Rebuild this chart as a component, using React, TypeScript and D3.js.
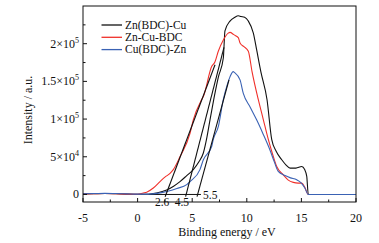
import React from "react";
import * as d3 from "d3";

const W = 379;
const H = 243;

// Binding energy (eV) and intensity (a.u.)
const blackE = [-5, -4, -3, -2, -1, 0, 1, 1.75, 2.66, 3.3, 3.88, 4.5, 5.1, 5.6, 6.02, 6.35, 6.63, 7.0, 7.4, 7.85, 8.0, 8.46, 8.9, 9.22, 9.47, 9.8, 10.14, 10.6, 10.9, 11.3, 11.85, 12.28, 12.7, 13.2, 13.6, 13.96, 14.5, 15.03, 15.3, 15.49, 15.63, 16, 18, 20];
const blackI = [800, 1000, 1300, 1000, 500, 200, 300, 2000, 6000, 11000, 17000, 25000, 33000, 43000, 55000, 76000, 99000, 128000, 156000, 181000, 217000, 230000, 235000, 237000, 236000, 235000, 230000, 214000, 192000, 162000, 126000, 73000, 57000, 46000, 39000, 35000, 35000, 37000, 33000, 24000, 0, 0, 0, 0];

const redE = [-5, -4, -3, -2, -1, 0, 0.52, 0.83, 1.44, 2.05, 2.5, 2.97, 3.27, 3.88, 4.8, 5.1, 5.87, 6.02, 6.79, 7.09, 7.39, 7.85, 8.3, 8.46, 8.8, 9.22, 9.38, 9.74, 10.14, 10.48, 11.05, 11.5, 11.97, 12.35, 12.74, 13.34, 13.8, 14.26, 14.7, 15.03, 15.3, 15.63, 16, 18, 20];
const redI = [800, 1000, 1200, 900, 500, 300, 2000, 3000, 8500, 17000, 23000, 28000, 33000, 50000, 81000, 99000, 126000, 130000, 170000, 176000, 190000, 205000, 214000, 215000, 212000, 208000, 201000, 196000, 190000, 163000, 126000, 100000, 73000, 54000, 37000, 26000, 19000, 16000, 15000, 15000, 10000, 0, 0, 0, 0];

const blueE = [-5, -4, -3, -2, -1, 0, 1, 1.8, 2.66, 3.6, 4.5, 4.8, 5.71, 6.02, 6.79, 6.93, 7.39, 7.85, 8.2, 8.46, 8.76, 8.86, 9.38, 9.68, 10.3, 10.9, 11.5, 12.12, 12.5, 12.88, 13.5, 14.0, 14.57, 14.97, 15.3, 15.63, 16, 18, 20];
const blueI = [1000, 1200, 1500, 1200, 800, 400, 500, 1500, 4000, 8000, 13000, 17000, 33000, 46000, 64000, 73000, 90000, 126000, 145000, 156000, 163000, 162000, 152000, 134000, 116000, 99000, 80000, 59000, 44000, 30500, 25000, 22000, 19500, 15500, 9000, 0, 0, 0, 0];

const seriesNames = ["Zn(BDC)-Cu", "Zn-Cu-BDC", "Cu(BDC)-Zn"];
const seriesColors = ["#111111", "#f0302a", "#3a62b4"];

// Tangent (onset) lines: start energy, end energy, end intensity
const onsetLabels = ["2.6", "4.5", "5.5"];
const onsetE0 = [2.6, 4.45, 5.5];
const onsetE1 = [7.09, 7.91, 8.37];
const onsetI1 = [172000, 195000, 152000];

const xTicks = [-5, 0, 5, 10, 15, 20];
const xMinor = [-2.5, 2.5, 7.5, 12.5, 17.5];
const yTicks = [0, 50000, 100000, 150000, 200000];
const yTickMant = ["0", "5", "1", "1.5", "2"];
const yTickExp = ["", "4", "5", "5", "5"];
const yMinor = [25000, 75000, 125000, 175000, 225000];

const font = "Liberation Serif";

export default function App() {
  const left = 83, right = 356, top = 6, bottom = 202;
  const x = d3.scaleLinear().domain([-5, 20]).range([left, right]);
  const y = d3.scaleLinear().domain([-10000, 250000]).range([bottom, top]);

  const line = d3
    .line<[number, number]>()
    .x((d) => x(d[0]))
    .y((d) => y(d[1]))
    .curve(d3.curveMonotoneX);

  const series = [
    { e: blackE, i: blackI },
    { e: redE, i: redI },
    { e: blueE, i: blueI },
  ];

  const ts = { fontFamily: font, fill: "#111" } as React.CSSProperties;

  return (
    <svg
      width={W}
      height={H}
      style={{ position: "absolute", left: 0, top: 0, background: "#fff", fontFamily: font }}
    >
      <rect x={0} y={0} width={W} height={H} fill="#fff" />
      <line x1={x(1)} x2={x(5.8)} y1={y(0)} y2={y(0)} stroke="#111" strokeWidth={1} />
      {series.map((s, k) => (
        <path
          key={k}
          d={line(s.e.map((e, j) => [e, s.i[j]] as [number, number])) || ""}
          fill="none"
          stroke={seriesColors[k]}
          strokeWidth={1.1}
        />
      ))}
      {onsetE0.map((e0, k) => {
        const e1 = onsetE1[k];
        const i1 = onsetI1[k];
        const slope = i1 / (e1 - e0);
        const iStart = -3000;
        const eStart = e0 + iStart / slope;
        return (
          <line key={k} x1={x(eStart)} y1={y(iStart)} x2={x(e1)} y2={y(i1)} stroke="#111" strokeWidth={1.1} />
        );
      })}
      <text x={x(2.25)} y={206} fontSize={11.5} textAnchor="middle" style={ts}>{onsetLabels[0]}</text>
      <text x={x(4.05)} y={206} fontSize={11.5} textAnchor="middle" style={ts}>{onsetLabels[1]}</text>
      <text x={x(6.0)} y={199} fontSize={11.5} textAnchor="start" style={ts}>{onsetLabels[2]}</text>

      <rect x={left} y={top} width={right - left} height={bottom - top} fill="none" stroke="#111" strokeWidth={1} />

      {xTicks.map((t) => (
        <g key={"xt" + t}>
          <line x1={x(t)} x2={x(t)} y1={bottom} y2={bottom - 4} stroke="#111" />
          <text x={x(t)} y={222} fontSize={12} textAnchor="middle" style={ts}>{t}</text>
        </g>
      ))}
      {xMinor.map((t) => (
        <line key={"xm" + t} x1={x(t)} x2={x(t)} y1={bottom} y2={bottom - 2.5} stroke="#111" />
      ))}
      {yTicks.map((t, k) => (
        <g key={"yt" + t}>
          <line x1={left} x2={left + 4} y1={y(t)} y2={y(t)} stroke="#111" />
          <text x={79} y={y(t) + 4} fontSize={12} textAnchor="end" style={ts}>
            {k === 0 ? (
              "0"
            ) : (
              <>
                {yTickMant[k]}×10
                <tspan dy={-5} fontSize={8}>{yTickExp[k]}</tspan>
              </>
            )}
          </text>
        </g>
      ))}
      {yMinor.map((t) => (
        <line key={"ym" + t} x1={left} x2={left + 2.5} y1={y(t)} y2={y(t)} stroke="#111" />
      ))}

      <text x={227} y={236} fontSize={12} textAnchor="middle" style={ts}>Binding energy / eV</text>
      <text transform="translate(32,110) rotate(-90)" fontSize={12} textAnchor="middle" style={ts}>Intensity / a.u.</text>

      {seriesNames.map((n, k) => (
        <g key={n}>
          <line x1={101.5} x2={122} y1={25 + k * 12.3} y2={25 + k * 12.3} stroke={seriesColors[k]} strokeWidth={1.3} />
          <text x={125} y={25 + k * 12.3 + 3.8} fontSize={11.5} style={ts}>{n}</text>
        </g>
      ))}
    </svg>
  );
}
